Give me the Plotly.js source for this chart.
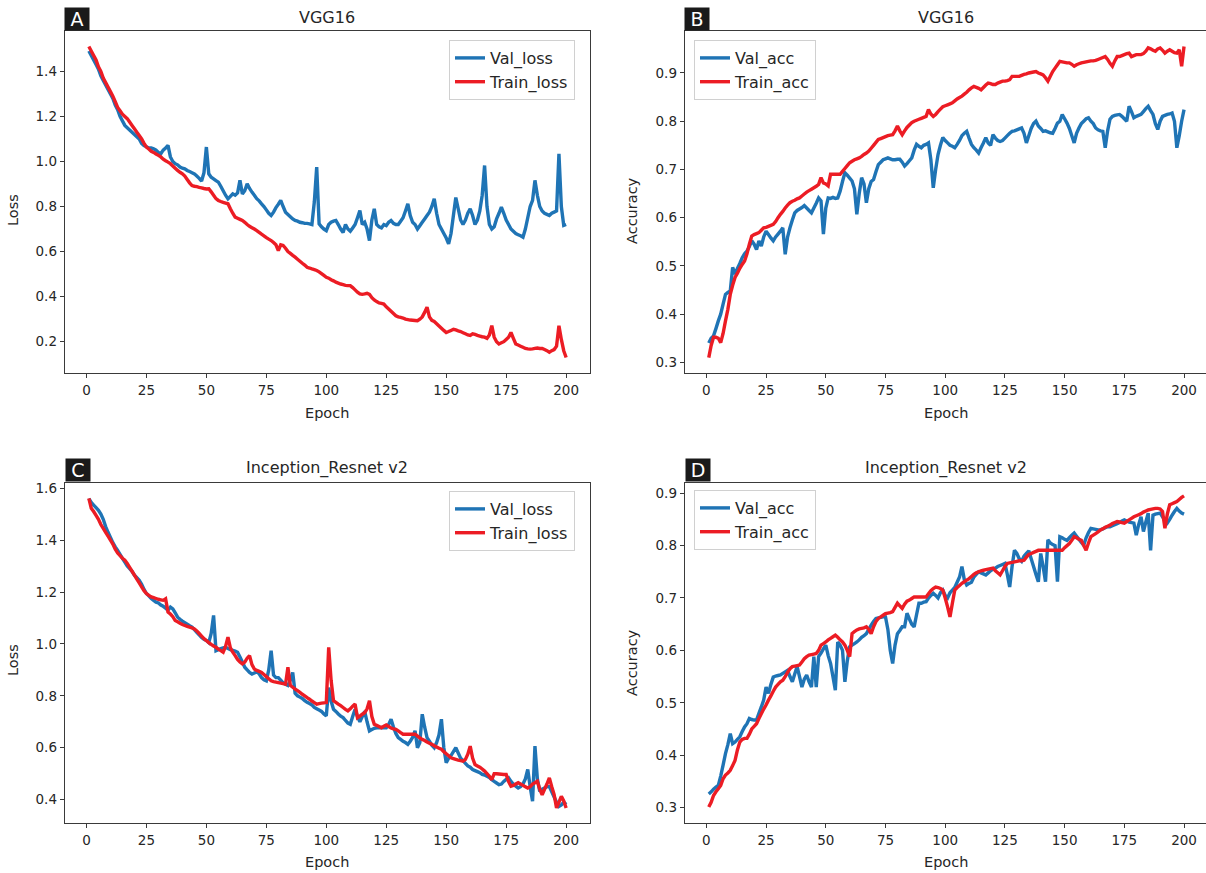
<!DOCTYPE html>
<html>
<head>
<meta charset="utf-8">
<script src="https://cdn.plot.ly/plotly-3.0.1.min.js"></script>
<style>html,body{margin:0;padding:0;background:#fff;}#chart{width:1206px;height:873px;}</style>
</head>
<body>
<div id="chart"></div>
<script>
// ---------- DATA (epochs 1..200) ----------
const vggValLoss = [
1.49,1.47,1.45,1.43,1.41,1.38,1.36,1.34,1.32,1.30,1.28,1.25,1.23,1.20,1.18,1.16,1.15,1.14,1.13,1.12,
1.11,1.10,1.08,1.07,1.065,1.06,1.06,1.056,1.05,1.04,1.034,1.05,1.06,1.071,1.02,1.00,0.99,0.985,0.975,0.97,
0.967,0.96,0.955,0.95,0.945,0.935,0.925,0.913,0.95,1.064,0.945,0.93,0.923,0.915,0.908,0.89,0.87,0.85,0.834,0.845,
0.856,0.85,0.86,0.916,0.856,0.87,0.901,0.88,0.864,0.85,0.835,0.825,0.812,0.80,0.785,0.77,0.76,0.775,0.795,0.81,
0.827,0.80,0.775,0.765,0.755,0.745,0.738,0.735,0.73,0.728,0.725,0.725,0.723,0.72,0.82,0.975,0.723,0.71,0.70,0.693,
0.72,0.73,0.735,0.738,0.72,0.70,0.685,0.72,0.70,0.69,0.705,0.72,0.75,0.782,0.72,0.73,0.70,0.649,0.74,0.79,
0.72,0.71,0.705,0.72,0.715,0.73,0.738,0.725,0.72,0.72,0.735,0.75,0.78,0.812,0.76,0.73,0.72,0.70,0.715,0.73,
0.745,0.76,0.775,0.80,0.834,0.77,0.72,0.70,0.68,0.66,0.634,0.68,0.76,0.84,0.79,0.74,0.72,0.74,0.77,0.79,
0.76,0.72,0.74,0.78,0.85,0.982,0.80,0.72,0.70,0.71,0.745,0.77,0.797,0.77,0.74,0.72,0.70,0.69,0.68,0.675,
0.67,0.664,0.70,0.75,0.80,0.827,0.916,0.85,0.80,0.78,0.77,0.765,0.76,0.77,0.775,0.78,1.034,0.80,0.716,0.72];

const vggTrainLoss = [
1.51,1.49,1.47,1.45,1.42,1.40,1.37,1.35,1.33,1.31,1.29,1.265,1.24,1.225,1.21,1.20,1.19,1.175,1.16,1.145,
1.13,1.115,1.10,1.08,1.064,1.055,1.045,1.04,1.033,1.027,1.02,1.01,1.003,0.997,0.99,0.98,0.97,0.96,0.952,0.945,
0.935,0.92,0.905,0.893,0.89,0.888,0.885,0.883,0.88,0.878,0.879,0.865,0.85,0.835,0.827,0.822,0.818,0.815,0.812,0.79,
0.77,0.753,0.748,0.743,0.738,0.73,0.72,0.712,0.706,0.70,0.693,0.685,0.677,0.67,0.662,0.655,0.649,0.64,0.63,0.604,
0.63,0.627,0.615,0.60,0.592,0.583,0.575,0.566,0.557,0.548,0.54,0.53,0.527,0.523,0.52,0.516,0.51,0.502,0.494,0.486,
0.482,0.475,0.47,0.464,0.46,0.456,0.453,0.45,0.449,0.449,0.44,0.43,0.42,0.412,0.41,0.412,0.415,0.41,0.395,0.385,
0.378,0.372,0.37,0.367,0.355,0.345,0.335,0.325,0.315,0.31,0.308,0.305,0.30,0.298,0.296,0.295,0.294,0.293,0.30,0.31,
0.33,0.353,0.31,0.295,0.29,0.28,0.27,0.26,0.25,0.241,0.245,0.25,0.255,0.252,0.248,0.245,0.24,0.235,0.23,0.228,
0.235,0.232,0.228,0.225,0.222,0.22,0.215,0.23,0.271,0.22,0.20,0.19,0.195,0.20,0.21,0.22,0.241,0.215,0.19,0.185,
0.18,0.175,0.17,0.168,0.167,0.168,0.17,0.172,0.17,0.17,0.165,0.16,0.153,0.16,0.165,0.18,0.271,0.21,0.16,0.13];

const vggValAcc = [
0.34,0.35,0.355,0.37,0.386,0.40,0.421,0.441,0.445,0.448,0.497,0.483,0.495,0.505,0.517,0.525,0.531,0.54,0.552,0.545,
0.534,0.552,0.541,0.56,0.572,0.565,0.558,0.552,0.56,0.566,0.572,0.579,0.524,0.56,0.579,0.595,0.61,0.615,0.618,0.621,
0.625,0.62,0.615,0.61,0.62,0.63,0.641,0.635,0.566,0.62,0.641,0.64,0.642,0.64,0.641,0.655,0.675,0.693,0.688,0.682,
0.676,0.66,0.607,0.65,0.683,0.67,0.631,0.66,0.675,0.679,0.695,0.71,0.715,0.72,0.722,0.724,0.722,0.72,0.72,0.721,
0.721,0.715,0.707,0.712,0.718,0.724,0.74,0.752,0.748,0.745,0.75,0.752,0.755,0.72,0.662,0.70,0.731,0.75,0.766,0.76,
0.755,0.75,0.748,0.745,0.752,0.76,0.77,0.775,0.779,0.765,0.752,0.745,0.74,0.734,0.745,0.755,0.766,0.755,0.75,0.772,
0.765,0.76,0.758,0.76,0.765,0.77,0.775,0.779,0.78,0.782,0.784,0.786,0.775,0.755,0.77,0.785,0.795,0.80,0.79,0.785,
0.779,0.78,0.778,0.776,0.775,0.785,0.796,0.80,0.814,0.805,0.796,0.785,0.77,0.755,0.775,0.786,0.795,0.80,0.805,0.807,
0.80,0.795,0.786,0.782,0.78,0.779,0.745,0.78,0.804,0.81,0.812,0.813,0.814,0.81,0.805,0.80,0.831,0.82,0.807,0.81,
0.812,0.814,0.82,0.826,0.831,0.822,0.814,0.795,0.783,0.80,0.81,0.812,0.814,0.815,0.817,0.80,0.745,0.77,0.80,0.824];

const vggTrainAcc = [
0.31,0.335,0.352,0.352,0.35,0.341,0.36,0.386,0.41,0.441,0.46,0.476,0.485,0.495,0.503,0.51,0.525,0.545,0.562,0.565,
0.567,0.569,0.574,0.579,0.58,0.582,0.584,0.586,0.592,0.60,0.607,0.613,0.62,0.626,0.631,0.634,0.636,0.639,0.641,0.645,
0.649,0.653,0.656,0.659,0.662,0.665,0.669,0.683,0.672,0.67,0.666,0.69,0.69,0.69,0.69,0.69,0.696,0.702,0.708,0.714,
0.717,0.72,0.722,0.724,0.727,0.731,0.734,0.738,0.744,0.75,0.756,0.762,0.764,0.766,0.768,0.77,0.771,0.772,0.78,0.79,
0.78,0.772,0.78,0.787,0.792,0.797,0.80,0.802,0.804,0.806,0.808,0.81,0.824,0.815,0.81,0.814,0.82,0.825,0.83,0.832,
0.834,0.836,0.838,0.842,0.846,0.849,0.852,0.856,0.86,0.865,0.869,0.872,0.87,0.868,0.865,0.87,0.875,0.879,0.878,0.876,
0.876,0.879,0.881,0.883,0.883,0.884,0.886,0.893,0.893,0.893,0.893,0.895,0.897,0.898,0.90,0.901,0.902,0.903,0.90,0.898,
0.896,0.89,0.883,0.893,0.903,0.91,0.917,0.924,0.923,0.922,0.921,0.921,0.918,0.914,0.917,0.919,0.921,0.922,0.923,0.924,
0.925,0.925,0.926,0.928,0.93,0.932,0.934,0.928,0.92,0.914,0.925,0.934,0.934,0.936,0.938,0.94,0.941,0.934,0.936,0.938,
0.938,0.938,0.94,0.945,0.952,0.95,0.947,0.945,0.95,0.952,0.947,0.941,0.945,0.948,0.945,0.942,0.941,0.948,0.914,0.955];

const incValLoss = [
1.56,1.545,1.535,1.525,1.515,1.50,1.48,1.452,1.43,1.41,1.39,1.374,1.36,1.345,1.33,1.315,1.30,1.29,1.28,1.265,
1.255,1.245,1.23,1.21,1.194,1.185,1.175,1.168,1.161,1.158,1.15,1.145,1.138,1.13,1.142,1.135,1.12,1.103,1.095,1.088,
1.082,1.076,1.07,1.065,1.055,1.045,1.035,1.025,1.018,1.013,1.005,1.04,1.110,0.974,0.978,0.982,0.985,0.987,0.982,0.978,
0.975,0.972,0.968,0.95,0.93,0.91,0.90,0.89,0.884,0.888,0.892,0.885,0.87,0.862,0.858,0.90,0.974,0.88,0.87,0.87,
0.86,0.85,0.845,0.84,0.86,0.89,0.81,0.80,0.795,0.79,0.781,0.775,0.77,0.765,0.755,0.75,0.745,0.74,0.73,0.723,
0.832,0.78,0.748,0.74,0.73,0.722,0.716,0.705,0.695,0.69,0.72,0.748,0.72,0.70,0.72,0.74,0.70,0.665,0.67,0.675,
0.677,0.677,0.678,0.677,0.677,0.69,0.71,0.68,0.655,0.639,0.632,0.625,0.62,0.613,0.625,0.64,0.665,0.60,0.62,0.729,
0.68,0.639,0.625,0.61,0.60,0.62,0.65,0.71,0.60,0.542,0.56,0.57,0.585,0.60,0.58,0.56,0.55,0.54,0.53,0.525,
0.516,0.512,0.508,0.504,0.497,0.495,0.49,0.485,0.477,0.47,0.464,0.458,0.46,0.47,0.478,0.484,0.47,0.46,0.452,0.445,
0.45,0.46,0.48,0.516,0.45,0.394,0.606,0.48,0.432,0.44,0.445,0.45,0.45,0.43,0.41,0.39,0.374,0.38,0.39,0.381];

const incTrainLoss = [
1.561,1.523,1.51,1.495,1.48,1.46,1.445,1.43,1.415,1.40,1.385,1.365,1.35,1.34,1.33,1.323,1.31,1.295,1.28,1.265,
1.25,1.235,1.22,1.205,1.194,1.187,1.181,1.178,1.175,1.172,1.17,1.168,1.174,1.123,1.115,1.105,1.09,1.085,1.08,1.075,
1.071,1.068,1.065,1.062,1.058,1.05,1.04,1.03,1.02,1.013,1.005,0.998,0.992,0.987,0.98,0.974,0.968,0.99,1.026,0.985,
0.968,0.955,0.94,0.93,0.923,0.93,0.945,0.955,0.92,0.903,0.898,0.894,0.89,0.882,0.874,0.866,0.858,0.855,0.853,0.851,
0.849,0.847,0.845,0.910,0.84,0.833,0.826,0.82,0.813,0.806,0.80,0.793,0.787,0.78,0.774,0.768,0.77,0.772,0.773,0.774,
0.987,0.86,0.781,0.775,0.768,0.762,0.755,0.748,0.742,0.75,0.76,0.768,0.716,0.722,0.729,0.735,0.75,0.781,0.72,0.69,
0.686,0.682,0.677,0.683,0.688,0.682,0.676,0.673,0.671,0.665,0.658,0.652,0.652,0.652,0.652,0.652,0.652,0.645,0.638,0.632,
0.628,0.622,0.617,0.613,0.608,0.603,0.598,0.594,0.585,0.577,0.569,0.561,0.558,0.555,0.552,0.55,0.548,0.555,0.575,0.606,
0.56,0.535,0.53,0.525,0.518,0.51,0.50,0.49,0.477,0.50,0.50,0.499,0.498,0.497,0.497,0.47,0.452,0.455,0.46,0.465,
0.46,0.455,0.45,0.445,0.45,0.46,0.465,0.471,0.44,0.419,0.44,0.46,0.484,0.45,0.419,0.368,0.39,0.413,0.395,0.368];

const incValAcc = [
0.326,0.33,0.335,0.339,0.342,0.36,0.381,0.403,0.42,0.441,0.422,0.425,0.43,0.435,0.445,0.454,0.46,0.47,0.468,0.467,
0.467,0.48,0.492,0.505,0.53,0.518,0.535,0.549,0.551,0.552,0.553,0.556,0.559,0.562,0.55,0.54,0.555,0.569,0.55,0.53,
0.545,0.553,0.54,0.53,0.588,0.53,0.588,0.595,0.603,0.61,0.59,0.575,0.55,0.524,0.616,0.61,0.60,0.54,0.58,0.607,
0.61,0.613,0.616,0.62,0.625,0.628,0.632,0.64,0.648,0.655,0.661,0.662,0.663,0.664,0.664,0.64,0.60,0.575,0.61,0.632,
0.638,0.645,0.645,0.671,0.66,0.65,0.645,0.668,0.69,0.69,0.692,0.693,0.70,0.705,0.709,0.705,0.70,0.71,0.715,0.705,
0.70,0.71,0.715,0.72,0.73,0.74,0.76,0.735,0.725,0.728,0.73,0.74,0.745,0.75,0.748,0.746,0.744,0.748,0.752,0.755,
0.757,0.76,0.762,0.764,0.766,0.745,0.721,0.76,0.791,0.785,0.775,0.77,0.78,0.785,0.79,0.775,0.76,0.745,0.731,0.785,
0.76,0.731,0.811,0.805,0.802,0.80,0.731,0.817,0.815,0.812,0.81,0.815,0.82,0.824,0.818,0.812,0.806,0.801,0.815,0.825,
0.833,0.832,0.831,0.83,0.83,0.832,0.834,0.836,0.836,0.838,0.84,0.842,0.844,0.847,0.849,0.847,0.845,0.844,0.843,0.82,
0.84,0.855,0.827,0.845,0.862,0.791,0.858,0.86,0.861,0.862,0.855,0.848,0.843,0.85,0.858,0.865,0.871,0.866,0.862,0.86];

const incTrainAcc = [
0.301,0.31,0.323,0.33,0.336,0.342,0.355,0.362,0.366,0.371,0.38,0.39,0.41,0.425,0.43,0.432,0.432,0.44,0.45,0.455,
0.46,0.47,0.479,0.488,0.496,0.505,0.513,0.522,0.53,0.535,0.54,0.543,0.55,0.558,0.565,0.569,0.57,0.571,0.572,0.578,
0.584,0.588,0.591,0.592,0.593,0.594,0.60,0.61,0.613,0.616,0.62,0.623,0.626,0.629,0.625,0.62,0.616,0.61,0.60,0.588,
0.632,0.636,0.639,0.641,0.642,0.643,0.645,0.64,0.632,0.645,0.655,0.661,0.664,0.667,0.67,0.671,0.672,0.674,0.682,0.69,
0.685,0.68,0.688,0.694,0.696,0.699,0.702,0.702,0.702,0.702,0.702,0.702,0.708,0.714,0.718,0.721,0.72,0.718,0.715,0.70,
0.683,0.664,0.69,0.715,0.72,0.724,0.728,0.731,0.734,0.737,0.741,0.745,0.748,0.75,0.752,0.753,0.754,0.755,0.756,0.757,
0.752,0.748,0.744,0.752,0.76,0.766,0.767,0.768,0.769,0.77,0.771,0.771,0.772,0.778,0.783,0.785,0.787,0.789,0.791,0.791,
0.791,0.791,0.791,0.791,0.791,0.791,0.791,0.791,0.791,0.796,0.80,0.804,0.81,0.817,0.815,0.812,0.81,0.80,0.791,0.805,
0.817,0.82,0.823,0.826,0.83,0.832,0.835,0.837,0.839,0.842,0.844,0.846,0.845,0.844,0.843,0.846,0.849,0.852,0.855,0.857,
0.859,0.861,0.864,0.866,0.868,0.869,0.87,0.871,0.871,0.87,0.865,0.833,0.86,0.878,0.88,0.882,0.884,0.888,0.892,0.895];

const xTicks = [0, 25, 50, 75, 100, 125, 150, 175, 200];
const lossTicksA = [0.2, 0.4, 0.6, 0.8, 1.0, 1.2, 1.4];
const accTicksB = [0.3, 0.4, 0.5, 0.6, 0.7, 0.8, 0.9];
const lossTicksC = [0.4, 0.6, 0.8, 1.0, 1.2, 1.4, 1.6];
const accTicksD = [0.3, 0.4, 0.5, 0.6, 0.7, 0.8, 0.9];
const panelTitles = ["VGG16", "VGG16", "Inception_Resnet v2", "Inception_Resnet v2"];
const panelLetters = ["A", "B", "C", "D"];
const lossNames = ["Val_loss", "Train_loss"];
const accNames = ["Val_acc", "Train_acc"];

// ---------- LAYOUT ----------
const W = 1206, H = 873;
const epochs = vggValLoss.map((_, i) => i + 1);
const BLUE = '#1f74b5', RED = '#ec1c24';
const FONT = 'DejaVu Sans, sans-serif';
const px = x => x / W, py = y => 1 - y / H;

function tr(y, name, color, ax, leg) {
  return {x: epochs, y: y, name: name, type: 'scatter', mode: 'lines',
    line: {color: color, width: 3.4, simplify: false},
    xaxis: 'x' + ax, yaxis: 'y' + ax, legend: leg};
}
const traces = [
  tr(vggValLoss, lossNames[0], BLUE, '', 'legend'),
  tr(vggTrainLoss, lossNames[1], RED, '', 'legend'),
  tr(vggValAcc, accNames[0], BLUE, '2', 'legend2'),
  tr(vggTrainAcc, accNames[1], RED, '2', 'legend2'),
  tr(incValLoss, lossNames[0], BLUE, '3', 'legend3'),
  tr(incTrainLoss, lossNames[1], RED, '3', 'legend3'),
  tr(incValAcc, accNames[0], BLUE, '4', 'legend4'),
  tr(incTrainAcc, accNames[1], RED, '4', 'legend4')
];

const common = {showline: true, linecolor: '#3a3a3a', linewidth: 1.3, ticks: 'outside', ticklen: 4,
  tickcolor: '#3a3a3a', tickwidth: 1, showgrid: false, zeroline: false, fixedrange: true,
  tickfont: {family: FONT, size: 13.5, color: '#262626'}};
function xax(dom, range, anchor) {
  return Object.assign({}, common, {domain: dom, range: range, tickvals: xTicks, mirror: true, anchor: anchor});
}
function yax(dom, range, ticks, mirror, anchor) {
  return Object.assign({}, common, {domain: dom, range: range, tickvals: ticks, tickformat: '.1f', mirror: mirror, anchor: anchor});
}
const leftX = [65 / W, 590 / W], rightX = [685 / W, 1];
const topY = [py(373), py(31)], botY = [py(823), py(483)];

function legendAt(x, y) {
  return {x: px(x), y: py(y), xanchor: 'left', yanchor: 'top', bgcolor: 'rgba(255,255,255,0.9)',
    bordercolor: '#d0d0d0', borderwidth: 1, font: {family: FONT, size: 16, color: '#262626'},
    tracegroupgap: 0, itemwidth: 30};
}

const annotations = [];
function ann(text, x, y, opts) {
  annotations.push(Object.assign({text: text, x: px(x), y: py(y), xref: 'paper', yref: 'paper',
    showarrow: false, xanchor: 'center', yanchor: 'middle',
    font: {family: FONT, size: 14.5, color: '#262626'}}, opts || {}));
}
// titles
const titleFont = {family: FONT, size: 16, color: '#262626'};
ann(panelTitles[0], 327, 17, {font: titleFont});
ann(panelTitles[1], 946, 17, {font: titleFont});
ann(panelTitles[2], 327, 468, {font: titleFont});
ann(panelTitles[3], 946, 468, {font: titleFont});
// panel letters
const letterPos = [[77, 19], [697, 19], [78, 470], [698, 470]];
panelLetters.forEach((l, i) => ann(l, letterPos[i][0], letterPos[i][1],
  {bgcolor: '#1a1a1a', font: {family: FONT, size: 19, color: '#ffffff'}, width: 22, height: 20, borderpad: 1}));
// axis titles
ann('Epoch', 327, 413); ann('Epoch', 946, 413); ann('Epoch', 327, 862); ann('Epoch', 946, 862);
ann('Loss', 13, 210, {textangle: -90}); ann('Accuracy', 632, 210, {textangle: -90});
ann('Loss', 13, 660, {textangle: -90}); ann('Accuracy', 632, 662, {textangle: -90});

const layout = {
  width: W, height: H, margin: {l: 0, r: 0, t: 0, b: 0},
  paper_bgcolor: '#ffffff', plot_bgcolor: '#ffffff',
  font: {family: FONT, color: '#262626'},
  showlegend: true,
  xaxis: xax(leftX, [-8.95, 209.95], 'y'),
  yaxis: yax(topY, [0.061, 1.579], lossTicksA, true, 'x'),
  xaxis2: xax(rightX, [-8.95, 209.2], 'y2'),
  yaxis2: yax(topY, [0.278, 0.987], accTicksB, false, 'x2'),
  xaxis3: xax(leftX, [-8.95, 209.95], 'y3'),
  yaxis3: yax(botY, [0.31, 1.62], lossTicksC, true, 'x3'),
  xaxis4: xax(rightX, [-8.95, 209.2], 'y4'),
  yaxis4: yax(botY, [0.2705, 0.9195], accTicksD, false, 'x4'),
  legend: legendAt(449, 40),
  legend2: legendAt(694, 40),
  legend3: legendAt(449, 491),
  legend4: legendAt(694, 490),
  annotations: annotations
};

Plotly.newPlot('chart', traces, layout, {displayModeBar: false, staticPlot: true});
</script>
</body>
</html>
